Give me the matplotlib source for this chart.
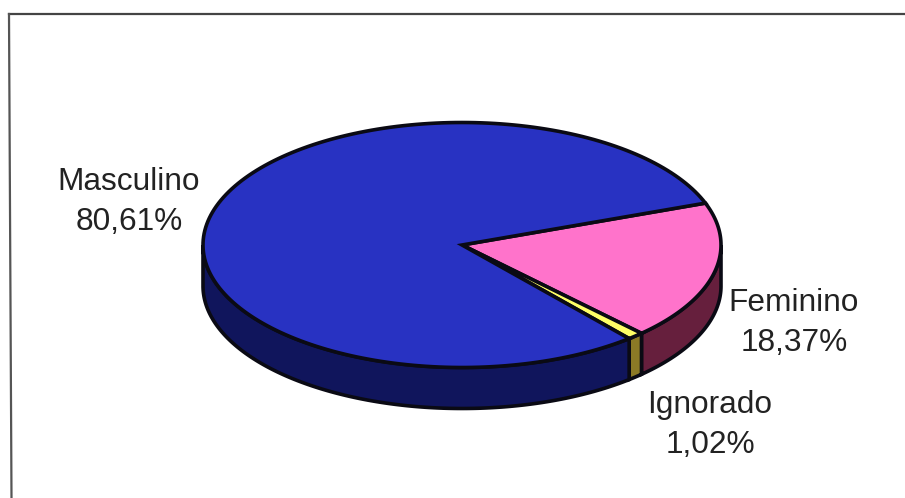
import numpy as np
import matplotlib
matplotlib.use("Agg")
import matplotlib.pyplot as plt

plt.rcParams["font.family"] = ["Liberation Sans", "DejaVu Sans"]

labels = ["Masculino", "Feminino", "Ignorado"]
values = [80.61, 18.37, 1.02]
value_text = ["80,61%", "18,37%", "1,02%"]
top_colors = ["#2832c2", "#ff73cb", "#ffff66"]
side_colors = ["#10155c", "#661f3d", "#8c7a26"]
label_xy = [(129, 202), (794, 323), (710, 425)]

W, H = 905, 498
cx, cy = 462, 245
rx, ry = 259, 122.5
depth = 41
edge = "#0a0a14"

# slices go clockwise from the upper right edge of the pie
start_angle = 20.0
order = [1, 2, 0]


def arc(a0, a1, n=200):
    t = np.radians(np.linspace(a0, a1, n))
    return cx + rx * np.cos(t), cy - ry * np.sin(t)


fig = plt.figure(figsize=(W / 100, H / 100), dpi=100)
ax = fig.add_axes([0, 0, 1, 1])
ax.set_xlim(0, W)
ax.set_ylim(H, 0)
ax.axis("off")

# chart border, cut off on the right and at the bottom
ax.plot([9, W], [14, 14], color="#444444", lw=1.6)
ax.plot([9, 11.5], [14, H], color="#555555", lw=1.6)

a = start_angle
for i in order:
    a1 = a - values[i] * 3.6
    # side wall, only the front half of the ellipse shows
    s0, s1 = max(a1, -180), min(a, 0)
    if s0 < s1:
        x, y = arc(s1, s0)
        ax.fill(np.r_[x, x[::-1]], np.r_[y, y[::-1] + depth],
                facecolor=side_colors[i], edgecolor=edge, lw=2.6, zorder=2)
    x, y = arc(a, a1)
    ax.fill(np.r_[cx, x], np.r_[cy, y], facecolor=top_colors[i], edgecolor=edge,
            lw=2.6, zorder=3)
    a = a1

for (tx, ty), name, txt in zip(label_xy, labels, value_text):
    ax.text(tx, ty, name + "\n" + txt, ha="center", va="center", fontsize=22.8,
            color="#222222", linespacing=1.4)

fig.savefig("out.png", dpi=100, facecolor="white")
